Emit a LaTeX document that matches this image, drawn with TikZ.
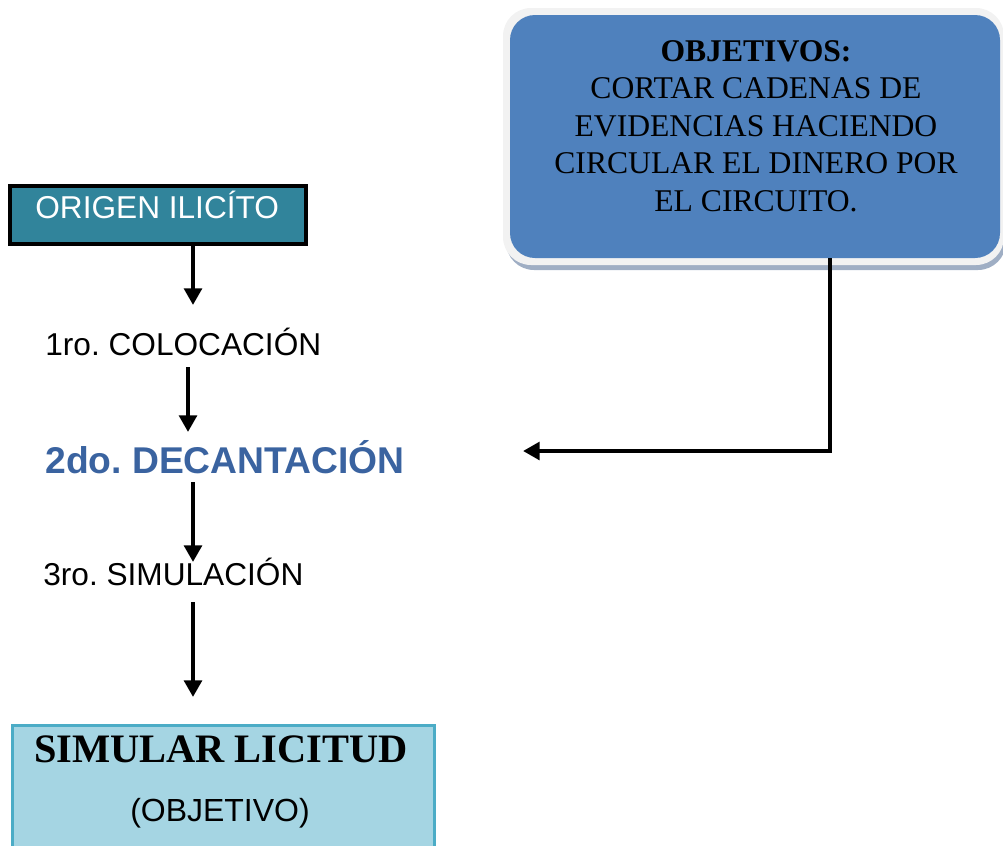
\documentclass[tikz,border=0pt]{standalone}
\usepackage{fontspec}
\setmainfont{Liberation Serif}
\newfontfamily\arial{Liberation Sans}
\usetikzlibrary{arrows.meta}
\definecolor{tealbox}{HTML}{31849B}
\definecolor{objblue}{HTML}{4F81BD}
\definecolor{lightbox}{HTML}{A5D5E3}
\definecolor{lightborder}{HTML}{4BACC6}
\definecolor{dectext}{HTML}{3A63A0}
\definecolor{shadowc}{HTML}{9FAEC4}
\frenchspacing
\tikzset{
  arr/.style={line width=2.4pt,-{Triangle[width=10pt,length=9.5pt]}},
  sans/.style={font=\arial\fontsize{18}{21}\selectfont,inner sep=0pt,anchor=base west},
}
\begin{document}
\begin{tikzpicture}[x=0.02cm,y=-0.02cm]
\useasboundingbox (0,0) rectangle (1003,845);
% origen box
\node[draw=black,line width=2.3pt,fill=tealbox,minimum width=296*0.02cm,minimum height=58*0.02cm,inner sep=0pt] (origen) at (158,215) {};
\node[sans,text=white] (origentxt) at (35,218) {ORIGEN ILICÍTO};
% steps
\node[sans] (coloc) at (45,355) {1ro. COLOCACIÓN};
\node[font=\arial\bfseries\fontsize{21.2}{24}\selectfont,text=dectext,inner sep=0pt,anchor=base west] (decan) at (45,473) {2do. DECANTACIÓN};
\node[sans] (simul) at (43,585) {3ro. SIMULACIÓN};
% final box
\node[draw=lightborder,line width=1.8pt,fill=lightbox,minimum width=422*0.02cm,minimum height=140*0.02cm,inner sep=0pt,anchor=north west] (licitud) at (11,724) {};
\node[font=\bfseries\fontsize{23}{26}\selectfont,inner sep=0pt,anchor=base] (lictxt) at (221,762) {SIMULAR LICITUD};
\node[font=\arial\fontsize{18.2}{21}\selectfont,inner sep=0pt,anchor=base] (objtxt) at (220,821) {(OBJETIVO)};
% objectives box
\fill[rounded corners=28*0.02cm,shadowc] (506,14) rectangle (1006,270);
\fill[rounded corners=28*0.02cm,black!5] (503,8) rectangle (1004,265);
\node[fill=objblue,rounded corners=25*0.02cm,minimum width=490*0.02cm,minimum height=243*0.02cm,inner sep=0pt] (obj) at (755,136.5) {};
\node[font=\fontsize{18}{21.3}\selectfont,align=center,inner sep=0pt,anchor=base] (objlines) at (756,211) {\textbf{OBJETIVOS:}\\CORTAR CADENAS DE\\EVIDENCIAS HACIENDO\\CIRCULAR EL DINERO POR\\EL CIRCUITO.};
% connectors
\coordinate (a1) at (193,305);
\coordinate (a2s) at (188,367);
\coordinate (a2) at (188,432);
\coordinate (a3s) at (193,482);
\coordinate (a3) at (193,562);
\coordinate (a4s) at (193,602);
\coordinate (a4) at (193,697);
\coordinate (bend) at (830,451);
\coordinate (tip) at (523,451);
\draw[arr] (origen.south -| a1) -- (a1);
\draw[arr] (a2s) -- (a2);
\draw[arr] (a3s) -- (a3);
\draw[arr] (a4s) -- (a4);
\draw[arr] (obj.south -| bend) -- (bend) -- (tip);
\end{tikzpicture}
\end{document}
